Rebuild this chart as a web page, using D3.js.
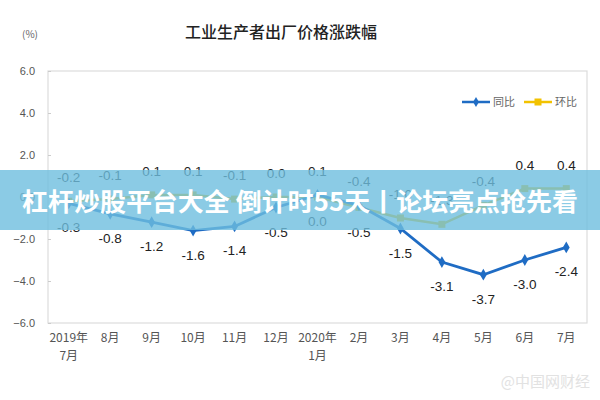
<!DOCTYPE html>
<html><head><meta charset="utf-8">
<script src="https://cdn.jsdelivr.net/npm/d3@7"></script>
<style>body{margin:0;background:#fff}svg{display:block}</style>
</head><body><svg id="c" width="600" height="400"></svg>
<script>
const categories = ["2019年\n7月","8月","9月","10月","11月","12月","2020年\n1月","2月","3月","4月","5月","6月","7月"];
const yoy = [-0.3,-0.8,-1.2,-1.6,-1.4,-0.5,0.1,-0.4,-1.5,-3.1,-3.7,-3.0,-2.4];
const mom = [-0.2,-0.1,0.1,0.1,-0.1,0.0,0.0,-0.5,-1.0,-1.3,-0.4,0.4,0.4];
const yTicks = [6,4,2,0,-2,-4,-6];
const seriesNames = ["同比","环比"];
const titleText = "工业生产者出厂价格涨跌幅";
const unitText = "(%)";
const bannerText = "杠杆炒股平台大全 倒计时55天丨论坛亮点抢先看";
const watermarkText = "@中国网财经";

const svg = d3.select("#c");
const cjk = "'Noto Sans CJK SC','Noto Sans',sans-serif";
const m = {l:48, r:587, t:71, b:323};
const blue = "#1f6cc4", yellow = "#f2c200";

const x = d3.scaleBand().domain(d3.range(categories.length)).range([m.l, m.r]);
const y = d3.scaleLinear().domain([-6, 6]).range([m.b, m.t]);
const cx = i => x(i) + x.bandwidth()/2;

svg.append("text").attr("x",281).attr("y",38).attr("text-anchor","middle")
  .attr("font-family",cjk).attr("font-size",16).attr("font-weight",500).attr("fill","#222").text(titleText);
svg.append("text").attr("x",30).attr("y",38).attr("text-anchor","middle")
  .attr("font-family",cjk).attr("font-size",10).attr("fill","#666").text(unitText);

// frame
svg.append("rect").attr("x",m.l).attr("y",m.t).attr("width",m.r-m.l).attr("height",m.b-m.t)
  .attr("fill","none").attr("stroke","#dcdcdc").attr("stroke-width",1.2);

// y axis
const yAxis = d3.axisLeft(y).tickValues(yTicks).tickFormat(d3.format(".1f")).tickSize(-3).tickPadding(13);
const ga = svg.append("g").attr("transform",`translate(${m.l},0)`).call(yAxis);
ga.select(".domain").remove();
ga.selectAll("line").attr("stroke","#ccc");
ga.selectAll("text").attr("font-family","'Liberation Sans',Arial,sans-serif").attr("font-size",11).attr("fill","#555");

// x axis labels
const gx = svg.append("g");
categories.forEach((c,i)=>{
  const lines = c.split("\n");
  const t = gx.append("text").attr("x",cx(i)).attr("y",342).attr("text-anchor","middle")
    .attr("font-family",cjk).attr("font-size",12).attr("fill","#555");
  lines.forEach((l,k)=>t.append("tspan").attr("x",cx(i)).attr("dy",k?18:0).text(l));
});

// lines
const line = d3.line().x((d,i)=>cx(i)).y(d=>y(d));
svg.append("path").datum(mom).attr("d",line).attr("fill","none").attr("stroke",yellow).attr("stroke-width",2.5);
svg.selectAll(".mm").data(mom).enter().append("rect")
  .attr("x",(d,i)=>cx(i)-3.5).attr("y",d=>y(d)-3.5).attr("width",7).attr("height",7).attr("fill",yellow);
svg.append("path").datum(yoy).attr("d",line).attr("fill","none").attr("stroke",blue).attr("stroke-width",2.8);
const diamond = d3.symbol().type(d3.symbolDiamond).size(40);
svg.selectAll(".ym").data(yoy).enter().append("path").attr("d",diamond)
  .attr("transform",(d,i)=>`translate(${cx(i)},${y(d)})`).attr("fill",blue);

// data labels: higher series above, lower below
const lab = svg.append("g").attr("font-family","'Liberation Sans',Arial,sans-serif").attr("font-size",13.5).attr("fill","#222").attr("text-anchor","middle");
const fmt = v => d3.format(".1f")(v).replace("−","-");
yoy.forEach((v,i)=>{
  const w = mom[i];
  const yoyUp = v > w;
  lab.append("text").attr("x",cx(i)).attr("y",y(v)+(yoyUp?-19:29)).text(fmt(v));
  lab.append("text").attr("x",cx(i)).attr("y",y(w)+(yoyUp?29:-19)).text(fmt(w));
});

// legend
const lg = svg.append("g").attr("font-family",cjk).attr("font-size",11).attr("fill","#666");
lg.append("line").attr("x1",462).attr("x2",490).attr("y1",102).attr("y2",102).attr("stroke",blue).attr("stroke-width",2.5);
lg.append("path").attr("d",d3.symbol().type(d3.symbolDiamond).size(30)).attr("transform","translate(476,102)").attr("fill",blue);
lg.append("text").attr("x",493).attr("y",106).text(seriesNames[0]);
lg.append("line").attr("x1",524).attr("x2",552).attr("y1",102).attr("y2",102).attr("stroke",yellow).attr("stroke-width",2.5);
lg.append("rect").attr("x",534.5).attr("y",98.5).attr("width",7).attr("height",7).attr("fill",yellow);
lg.append("text").attr("x",555).attr("y",106).text(seriesNames[1]);

// banner overlay
svg.append("rect").attr("x",0).attr("y",170).attr("width",600).attr("height",60)
  .attr("fill","rgb(110,190,222)").attr("opacity",0.8);
svg.append("text").attr("x",22).attr("y",211).attr("font-family",cjk).attr("font-weight","bold")
  .attr("font-size",25).attr("fill","#fff").attr("textLength",556).attr("lengthAdjust","spacingAndGlyphs").text(bannerText);

// watermark
svg.append("text").attr("x",590).attr("y",387).attr("text-anchor","end").attr("font-family",cjk)
  .attr("font-size",15).attr("fill","#e2e2e2").text(watermarkText);
</script></body></html>
